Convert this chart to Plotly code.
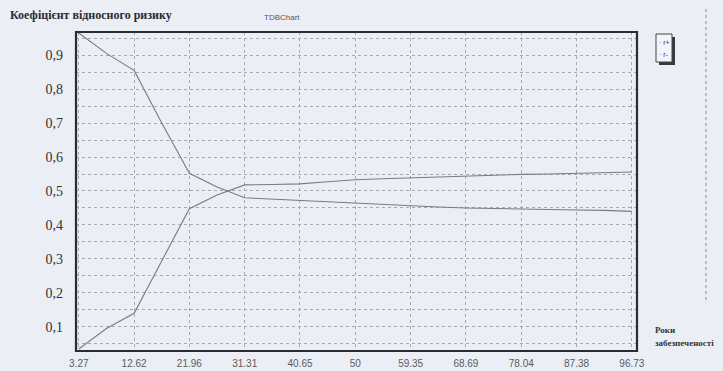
import plotly.graph_objects as go

# ---- data ----
years = [3.27, 7.94, 12.62, 17.29, 21.96, 26.64, 31.31, 35.98, 40.65, 45.33, 50.0,
         54.67, 59.35, 64.02, 68.69, 73.37, 78.04, 82.71, 87.38, 92.06, 96.73]
r_plus = [0.965, 0.905, 0.855, 0.700, 0.552, 0.512, 0.480, 0.476, 0.473, 0.468, 0.463,
          0.460, 0.457, 0.453, 0.450, 0.448, 0.447, 0.446, 0.444, 0.443, 0.440]
r_minus = [0.035, 0.095, 0.140, 0.295, 0.448, 0.488, 0.518, 0.519, 0.521, 0.527, 0.533,
           0.536, 0.539, 0.542, 0.545, 0.548, 0.549, 0.550, 0.552, 0.553, 0.556]
x_ticks = [3.27, 12.62, 21.96, 31.31, 40.65, 50, 59.35, 68.69, 78.04, 87.38, 96.73]
x_tick_text = ["3.27", "12.62", "21.96", "31.31", "40.65", "50", "59.35", "68.69",
               "78.04", "87.38", "96.73"]
y_ticks = [0.1, 0.2, 0.3, 0.4, 0.5, 0.6, 0.7, 0.8, 0.9]
y_tick_text = ["0,1", "0,2", "0,3", "0,4", "0,5", "0,6", "0,7", "0,8", "0,9"]
series_names = ["r+", "r-"]
title_text = "Коефіцієнт відносного ризику"
x_title = ["Роки", "забезпеченості"]

BG = "#eceef6"
LINE = "#7a7a80"
GRID = "#a8a8b2"
SERIF = "Liberation Serif"

fig = go.Figure()
for name, vals in zip(series_names, [r_plus, r_minus]):
    fig.add_trace(go.Scatter(x=years, y=vals, mode="lines", name=name,
                             line=dict(color=LINE, width=1.1)))

W, H = 723, 371
L, R, T, B = 76, 637, 32, 351

fig.update_layout(
    width=W, height=H,
    margin=dict(l=L, r=W - R, t=T, b=H - B, pad=0, autoexpand=False),
    paper_bgcolor=BG, plot_bgcolor=BG,
    showlegend=False,
    xaxis=dict(range=[2.8, 97.6], tickvals=x_ticks, ticktext=x_tick_text,
               showgrid=True, gridcolor=GRID, griddash="dot", gridwidth=1,
               zeroline=False, ticks="", ticklabelstandoff=5, automargin=False,
               tickfont=dict(family="Liberation Sans", size=10, color="#5a5a5e")),
    yaxis=dict(range=[0.029, 0.968], tickvals=y_ticks, ticktext=y_tick_text,
               showgrid=True, gridcolor=GRID, griddash="dot", gridwidth=1,
               minor=dict(dtick=0.05, tick0=0, showgrid=True, gridcolor=GRID,
                          griddash="dot", gridwidth=1),
               zeroline=False, ticks="", ticklabelstandoff=12, automargin=False,
               tickfont=dict(family=SERIF, size=14, color="#333")),
)

# plot frame
fig.add_shape(type="rect", xref="paper", yref="paper", x0=0, x1=1, y0=0, y1=1,
              line=dict(color="#2c2c30", width=2.2), layer="above")

def px(xv):
    return (xv - L) / (R - L)

def py(yv):
    return (B - yv) / (B - T)

# title / header texts
fig.add_annotation(text="<b>" + title_text + "</b>", xref="paper", yref="paper",
                   x=px(8), y=py(15), xanchor="left", yanchor="middle", showarrow=False,
                   font=dict(family=SERIF, size=12, color="#2a2a2e"))
fig.add_annotation(text="TDBChart", xref="paper", yref="paper",
                   x=px(262), y=py(17), xanchor="left", yanchor="middle", showarrow=False,
                   font=dict(family="Liberation Sans", size=8, color="#555"))

# axis caption at the right
fig.add_annotation(text="<b>" + x_title[0] + "</b>", xref="paper", yref="paper",
                   x=px(653), y=py(330), xanchor="left", yanchor="middle",
                   showarrow=False, font=dict(family=SERIF, size=9, color="#333"))
fig.add_annotation(text="<b>" + x_title[1] + "</b>", xref="paper", yref="paper",
                   x=px(653), y=py(343), xanchor="left", yanchor="middle",
                   showarrow=False, font=dict(family=SERIF, size=9, color="#333"))

# legend box with shadow
fig.add_shape(type="rect", xref="paper", yref="paper", x0=px(659), x1=px(675),
              y0=py(65), y1=py(37), fillcolor="#3a3a3e", line=dict(width=0))
fig.add_shape(type="rect", xref="paper", yref="paper", x0=px(656), x1=px(672),
              y0=py(62), y1=py(34), fillcolor="#f4f5fa",
              line=dict(color="#444", width=1))
for i, name in enumerate(series_names):
    fig.add_annotation(text="· " + name, xref="paper", yref="paper",
                       x=px(664), y=py(42 + 12 * i), xanchor="center",
                       yanchor="middle", showarrow=False,
                       font=dict(family="Liberation Sans", size=7, color="#444"))

# page edge line of the scan
fig.add_shape(type="line", xref="paper", yref="paper", x0=px(706), x1=px(706),
              y0=py(300), y1=py(6), line=dict(color="#8a8a92", width=1, dash="dot"))

fig.write_html("out.html",
               config={"displayModeBar": False},
               post_script="document.body.style.margin='0';"
                           "document.body.style.overflow='hidden';"
                           "document.body.style.background='" + BG + "';")
